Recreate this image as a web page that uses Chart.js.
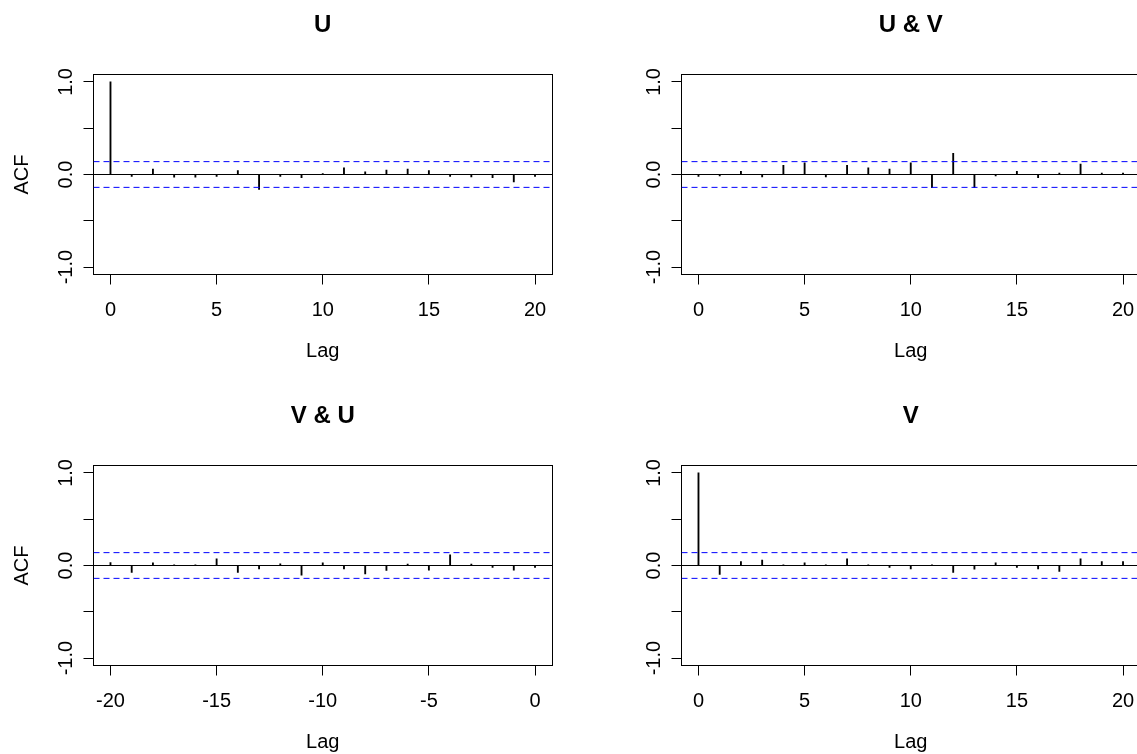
<!DOCTYPE html>
<html>
<head>
<meta charset="utf-8">
<script src="https://cdn.jsdelivr.net/npm/chart.js@4/dist/chart.umd.min.js"></script>
<style>
  html, body { margin: 0; padding: 0; background: #fff; overflow: hidden; width: 1137px; height: 754px; }
  canvas { position: absolute; }
  #pUU { left: 0; top: 0; }
  #pUV { left: 588px; top: 0; }
  #pVU { left: 0; top: 391px; }
  #pVV { left: 588px; top: 391px; }
</style>
</head>
<body>
<canvas id="pUU" width="570" height="377"></canvas>
<canvas id="pUV" width="570" height="377"></canvas>
<canvas id="pVU" width="570" height="377"></canvas>
<canvas id="pVV" width="570" height="377"></canvas>
<script>
// lags
const lagsPos = [0, 1, 2, 3, 4, 5, 6, 7, 8, 9, 10, 11, 12, 13, 14, 15, 16, 17, 18, 19, 20];
const lagsNeg = [-20, -19, -18, -17, -16, -15, -14, -13, -12, -11, -10, -9, -8, -7, -6, -5, -4, -3, -2, -1, 0];

// correlations
const acfU = [1.0, -0.02, 0.058, -0.03, -0.03, -0.02, 0.043, -0.16, -0.02, -0.035, 0.01,
  0.072, 0.03, 0.047, 0.058, 0.043, -0.02, -0.025, -0.035, -0.08, -0.02];
const ccfUV = [-0.022, -0.015, 0.033, -0.025, 0.10, 0.127, -0.025, 0.10, 0.072, 0.058, 0.127,
  -0.141, 0.228, -0.141, -0.015, 0.033, -0.035, 0.015, 0.112, 0.015, 0.015];
const ccfVU = [0.032, -0.076, 0.029, 0.007, 0.007, 0.072, -0.076, -0.036, 0.018, -0.105, 0.029,
  -0.036, -0.09, -0.054, 0.014, -0.05, 0.115, 0.014, -0.022, -0.05, -0.022];
const acfV = [1.0, -0.097, 0.043, 0.058, 0.007, 0.029, 0.007, 0.072, 0.007, -0.022, -0.036,
  0.007, -0.076, -0.04, 0.029, -0.022, -0.036, -0.065, 0.072, 0.043, 0.043];

const ciBound = 0.139;

const xTicksPos = [0, 5, 10, 15, 20];
const xTicksNeg = [-20, -15, -10, -5, 0];
const yTicks = [-1, -0.5, 0, 0.5, 1];
const yTickLabels = ['-1.0', '', '0.0', '', '1.0'];

const FONT = '"Liberation Sans", Arial, sans-serif';

function makePanel(id, title, lags, values, xTicks, xMin, xMax, showYTitle) {
  const ctx = document.getElementById(id).getContext('2d');
  return new Chart(ctx, {
    type: 'bar',
    data: {
      datasets: [{
        type: 'bar',
        data: lags.map((l, i) => ({ x: l, y: values[i] })),
        backgroundColor: '#000',
        borderWidth: 0,
        barThickness: 1.2,
        order: 1
      },
      {
        type: 'line',
        data: [{ x: xMin, y: 0 }, { x: xMax, y: 0 }],
        borderColor: '#000',
        borderWidth: 1,
        pointRadius: 0,
        order: 2
      },
      {
        type: 'line',
        data: [{ x: xMin, y: ciBound }, { x: xMax, y: ciBound }],
        borderColor: '#0000ff',
        borderWidth: 1,
        borderDash: [6, 4],
        pointRadius: 0,
        order: 0
      },
      {
        type: 'line',
        data: [{ x: xMin, y: -ciBound }, { x: xMax, y: -ciBound }],
        borderColor: '#0000ff',
        borderWidth: 1,
        borderDash: [6, 4],
        pointRadius: 0,
        order: 0
      }]
    },
    options: {
      responsive: false,
      animation: false,
      devicePixelRatio: 1,
      layout: { padding: { left: 0, right: 18, top: 0, bottom: 0 } },
      scales: {
        x: {
          type: 'linear',
          position: 'bottom',
          min: xMin,
          max: xMax,
          offset: false,
          afterBuildTicks: s => { s.ticks = xTicks.map(v => ({ value: v })); },
          afterFit: s => { s.height = 102.5; },
          grid: { drawOnChartArea: false, offset: false, tickLength: 10, color: '#000', lineWidth: 1 },
          border: { display: true, color: '#000', width: 1 },
          ticks: {
            autoSkip: false,
            maxRotation: 0,
            padding: 14,
            color: '#000',
            font: { family: FONT, size: 20 },
            callback: v => String(v)
          },
          title: {
            display: true,
            text: 'Lag',
            color: '#000',
            font: { family: FONT, size: 20 },
            padding: { top: 0, bottom: 14 }
          }
        },
        y: {
          type: 'linear',
          position: 'left',
          min: -1.08,
          max: 1.08,
          afterBuildTicks: s => { s.ticks = yTicks.map(v => ({ value: v })); },
          afterFit: s => { s.width = 93.5; },
          grid: { drawOnChartArea: false, tickLength: 10, color: '#000', lineWidth: 1 },
          border: { display: true, color: '#000', width: 1 },
          ticks: {
            autoSkip: false,
            minRotation: 90,
            maxRotation: 90,
            crossAlign: 'center',
            padding: 0,
            color: '#000',
            font: { family: FONT, size: 20 },
            callback: v => yTickLabels[yTicks.indexOf(v)]
          },
          title: {
            display: showYTitle,
            text: 'ACF',
            color: '#000',
            font: { family: FONT, size: 20 },
            padding: { top: 10, bottom: 0 }
          }
        },
        xTop: {
          type: 'linear',
          position: 'top',
          afterFit: s => { s.height = 0; },
          grid: { drawOnChartArea: false, drawTicks: false },
          border: { display: true, color: '#000', width: 1 },
          ticks: { display: false }
        },
        yRight: {
          type: 'linear',
          position: 'right',
          afterFit: s => { s.width = 0; },
          grid: { drawOnChartArea: false, drawTicks: false },
          border: { display: true, color: '#000', width: 1 },
          ticks: { display: false }
        }
      },
      plugins: {
        legend: { display: false },
        tooltip: { enabled: false },
        title: {
          display: true,
          text: title,
          fullSize: false,
          color: '#000',
          font: { family: FONT, size: 24, weight: 'bold' },
          padding: { top: 10.6, bottom: 35.1 }
        }
      }
    }
  });
}

makePanel('pUU', 'U', lagsPos, acfU, xTicksPos, -0.8, 20.8, true);
makePanel('pUV', 'U & V', lagsPos, ccfUV, xTicksPos, -0.8, 20.8, false);
makePanel('pVU', 'V & U', lagsNeg, ccfVU, xTicksNeg, -20.8, 0.8, true);
makePanel('pVV', 'V', lagsPos, acfV, xTicksPos, -0.8, 20.8, false);
</script>
</body>
</html>
